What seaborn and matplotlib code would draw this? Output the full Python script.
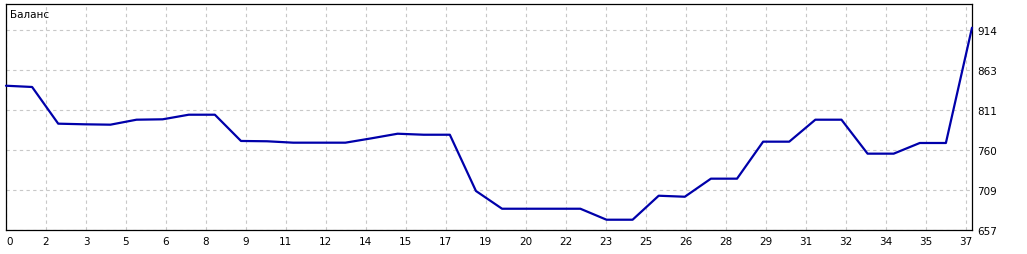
import numpy as np
import pandas as pd
import matplotlib
matplotlib.use("Agg")
import matplotlib.pyplot as plt
import seaborn as sns

# ---- data ----
trades = list(range(38))
balance = [842.5, 840.9, 793.8, 793.0, 792.5, 798.9, 799.4, 805.3, 805.3, 771.6,
           771.2, 769.4, 769.4, 769.4, 775.0, 780.9, 779.6, 779.6, 707.4, 684.6,
           684.6, 684.6, 684.6, 670.5, 670.5, 701.3, 700.0, 723.2, 723.2, 770.7,
           770.7, 798.9, 798.9, 755.3, 755.3, 769.0, 769.0, 917.0]
x_tick_labels = ["0", "2", "3", "5", "6", "8", "9", "11", "12", "14", "15", "17", "19",
                 "20", "22", "23", "25", "26", "28", "29", "31", "32", "34", "35", "37"]
y_tick_labels = ["657", "709", "760", "811", "863", "914"]
title = "Баланс"

df = pd.DataFrame({"trade": trades, "balance": balance})

sns.set_style("white")
plt.rcParams["font.family"] = ["DejaVu Sans"]

W, H = 1027, 255
fig = plt.figure(figsize=(W / 100, H / 100), dpi=100)
ax = fig.add_axes([6 / W, (H - 231) / H, (972 - 6) / W, (231 - 5) / H])

sns.lineplot(data=df, x="trade", y="balance", ax=ax, color="#0000AA",
             linewidth=1.6, estimator=None, sort=False, clip_on=False, zorder=3)

ymin = 657.3
ystep = 51.35
y_ticks = ymin + ystep * np.arange(len(y_tick_labels))
ytop = ymin + ystep * 226 / 40
ax.set_ylim(ymin, ytop)
ax.set_xlim(0, 37)

step_x = 37 * 40 / (972.3 - 6)
x_ticks = step_x * np.arange(len(x_tick_labels))

ax.set_xticks(x_ticks)
ax.set_xticklabels(x_tick_labels)
ax.set_yticks(y_ticks)
ax.set_yticklabels(y_tick_labels)
ax.yaxis.tick_right()
ax.tick_params(axis="both", which="both", length=0, labelsize=7.5,
               labelcolor="black")
ax.tick_params(axis="y", pad=4)
ax.tick_params(axis="x", pad=4)
first = ax.get_xticklabels()[0]
first.set_horizontalalignment("left")
for lbl in ax.get_xticklabels()[1:]:
    lbl.set_x(lbl.get_position()[0])

ax.grid(True, color="#c8c8c8", linestyle=(0, (3, 3)), linewidth=0.8)
ax.set_axisbelow(True)
for s in ax.spines.values():
    s.set_visible(True)
    s.set_color("black")
    s.set_linewidth(0.9)

ax.set_xlabel("")
ax.set_ylabel("")
ax.text(4 / 966, 1 - 5 / 226, title, transform=ax.transAxes, ha="left", va="top",
        fontsize=7.5, color="black")

fig.savefig("out.png", dpi=100, facecolor="white")
